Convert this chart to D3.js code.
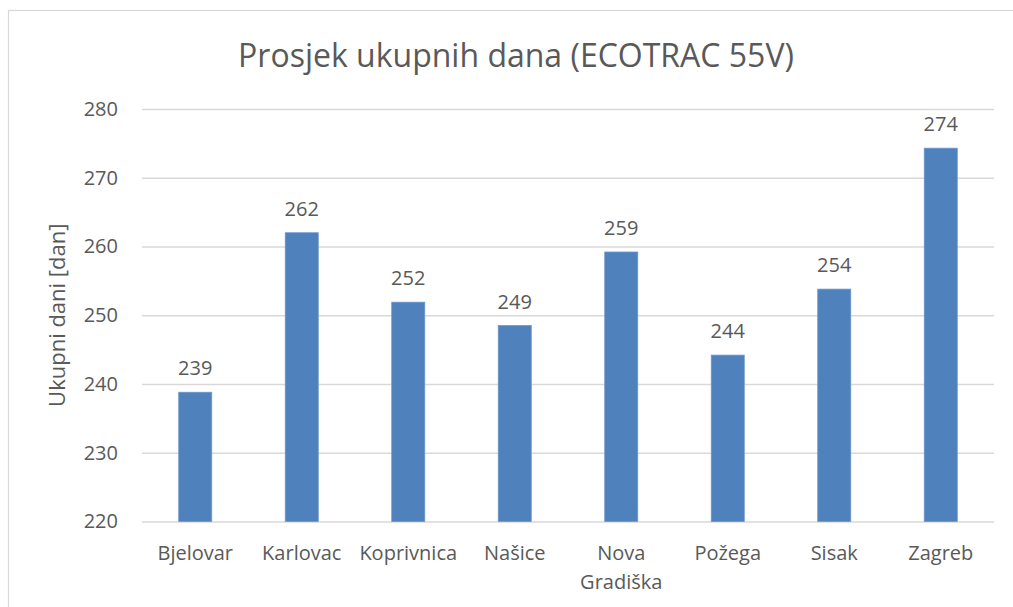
<!DOCTYPE html>
<html>
<head>
<meta charset="utf-8">
<script src="https://cdn.jsdelivr.net/npm/d3@7"></script>
<style>
  body { margin: 0; background: #ffffff; }
  text { font-family: "Open Sans", sans-serif; fill: #595959; }
</style>
</head>
<body>
<script>
// chart data
const categories = ["Bjelovar", "Karlovac", "Koprivnica", "Našice", "Nova Gradiška", "Požega", "Sisak", "Zagreb"];
const values = [238.8, 262.0, 251.9, 248.5, 259.2, 244.2, 253.8, 274.3];
const labels = ["239", "262", "252", "249", "259", "244", "254", "274"];
const yTicks = [220, 230, 240, 250, 260, 270, 280];

const W = 1013, H = 607;
const m = { left: 142, right: 994, top: 109, bottom: 521.5 };

const svg = d3.select("body").append("svg")
  .attr("width", W)
  .attr("height", H);

// chart border (runs off the right and bottom)
svg.append("rect")
  .attr("x", 8.5)
  .attr("y", 10.5)
  .attr("width", W + 10)
  .attr("height", H + 10)
  .attr("fill", "#ffffff")
  .attr("stroke", "#d9d9d9")
  .attr("stroke-width", 1.2);

const x = d3.scaleBand()
  .domain(categories)
  .range([m.left, m.right])
  .paddingInner(0.69)
  .paddingOuter(0.345);

const y = d3.scaleLinear()
  .domain([220, 280])
  .range([m.bottom, m.top]);

// gridlines + tick labels
const yAxis = svg.append("g")
  .attr("transform", `translate(${m.left},0)`)
  .call(d3.axisLeft(y).tickValues(yTicks).tickSize(-(m.right - m.left)).tickPadding(24));
yAxis.select(".domain").remove();
yAxis.selectAll(".tick line")
  .attr("stroke", "#d9d9d9")
  .attr("stroke-width", 1.3);
yAxis.selectAll(".tick text")
  .style("font-size", "20px")
  .style("font-family", "'Open Sans', sans-serif")
  .attr("fill", "#595959");

// bars
svg.append("g").selectAll("rect")
  .data(values)
  .join("rect")
  .attr("x", (d, i) => x(categories[i]))
  .attr("y", d => y(d))
  .attr("width", x.bandwidth())
  .attr("height", d => y(220) - y(d))
  .attr("fill", "#4f81bd")
  .attr("stroke", "#6a96cc")
  .attr("stroke-width", 0.8);

// value labels
svg.append("g").selectAll("text")
  .data(values)
  .join("text")
  .attr("x", (d, i) => x(categories[i]) + x.bandwidth() / 2)
  .attr("y", d => y(d) - 17)
  .attr("text-anchor", "middle")
  .style("font-size", "20px")
  .text((d, i) => labels[i]);

// category labels, wrapped if wider than a band
const cat = svg.append("g").selectAll("text")
  .data(categories)
  .join("text")
  .attr("x", d => x(d) + x.bandwidth() / 2)
  .attr("y", 560)
  .attr("text-anchor", "middle")
  .style("font-size", "20px")
  .text(d => d);
cat.each(function(d) {
  const t = d3.select(this);
  if (this.getComputedTextLength() > x.step()) {
    const cx = t.attr("x");
    t.text(null);
    d.split(" ").forEach((w, k) => {
      t.append("tspan").attr("x", cx).attr("dy", k ? 29 : 0).text(w);
    });
  }
});

// y axis title
svg.append("text")
  .attr("transform", `translate(65,${(m.top + m.bottom) / 2}) rotate(-90)`)
  .attr("text-anchor", "middle")
  .style("font-size", "22px")
  .text("Ukupni dani [dan]");

// chart title
svg.append("text")
  .attr("x", 516)
  .attr("y", 67)
  .attr("text-anchor", "middle")
  .style("font-size", "32px")
  .text("Prosjek ukupnih dana (ECOTRAC 55V)");
</script>
</body>
</html>
